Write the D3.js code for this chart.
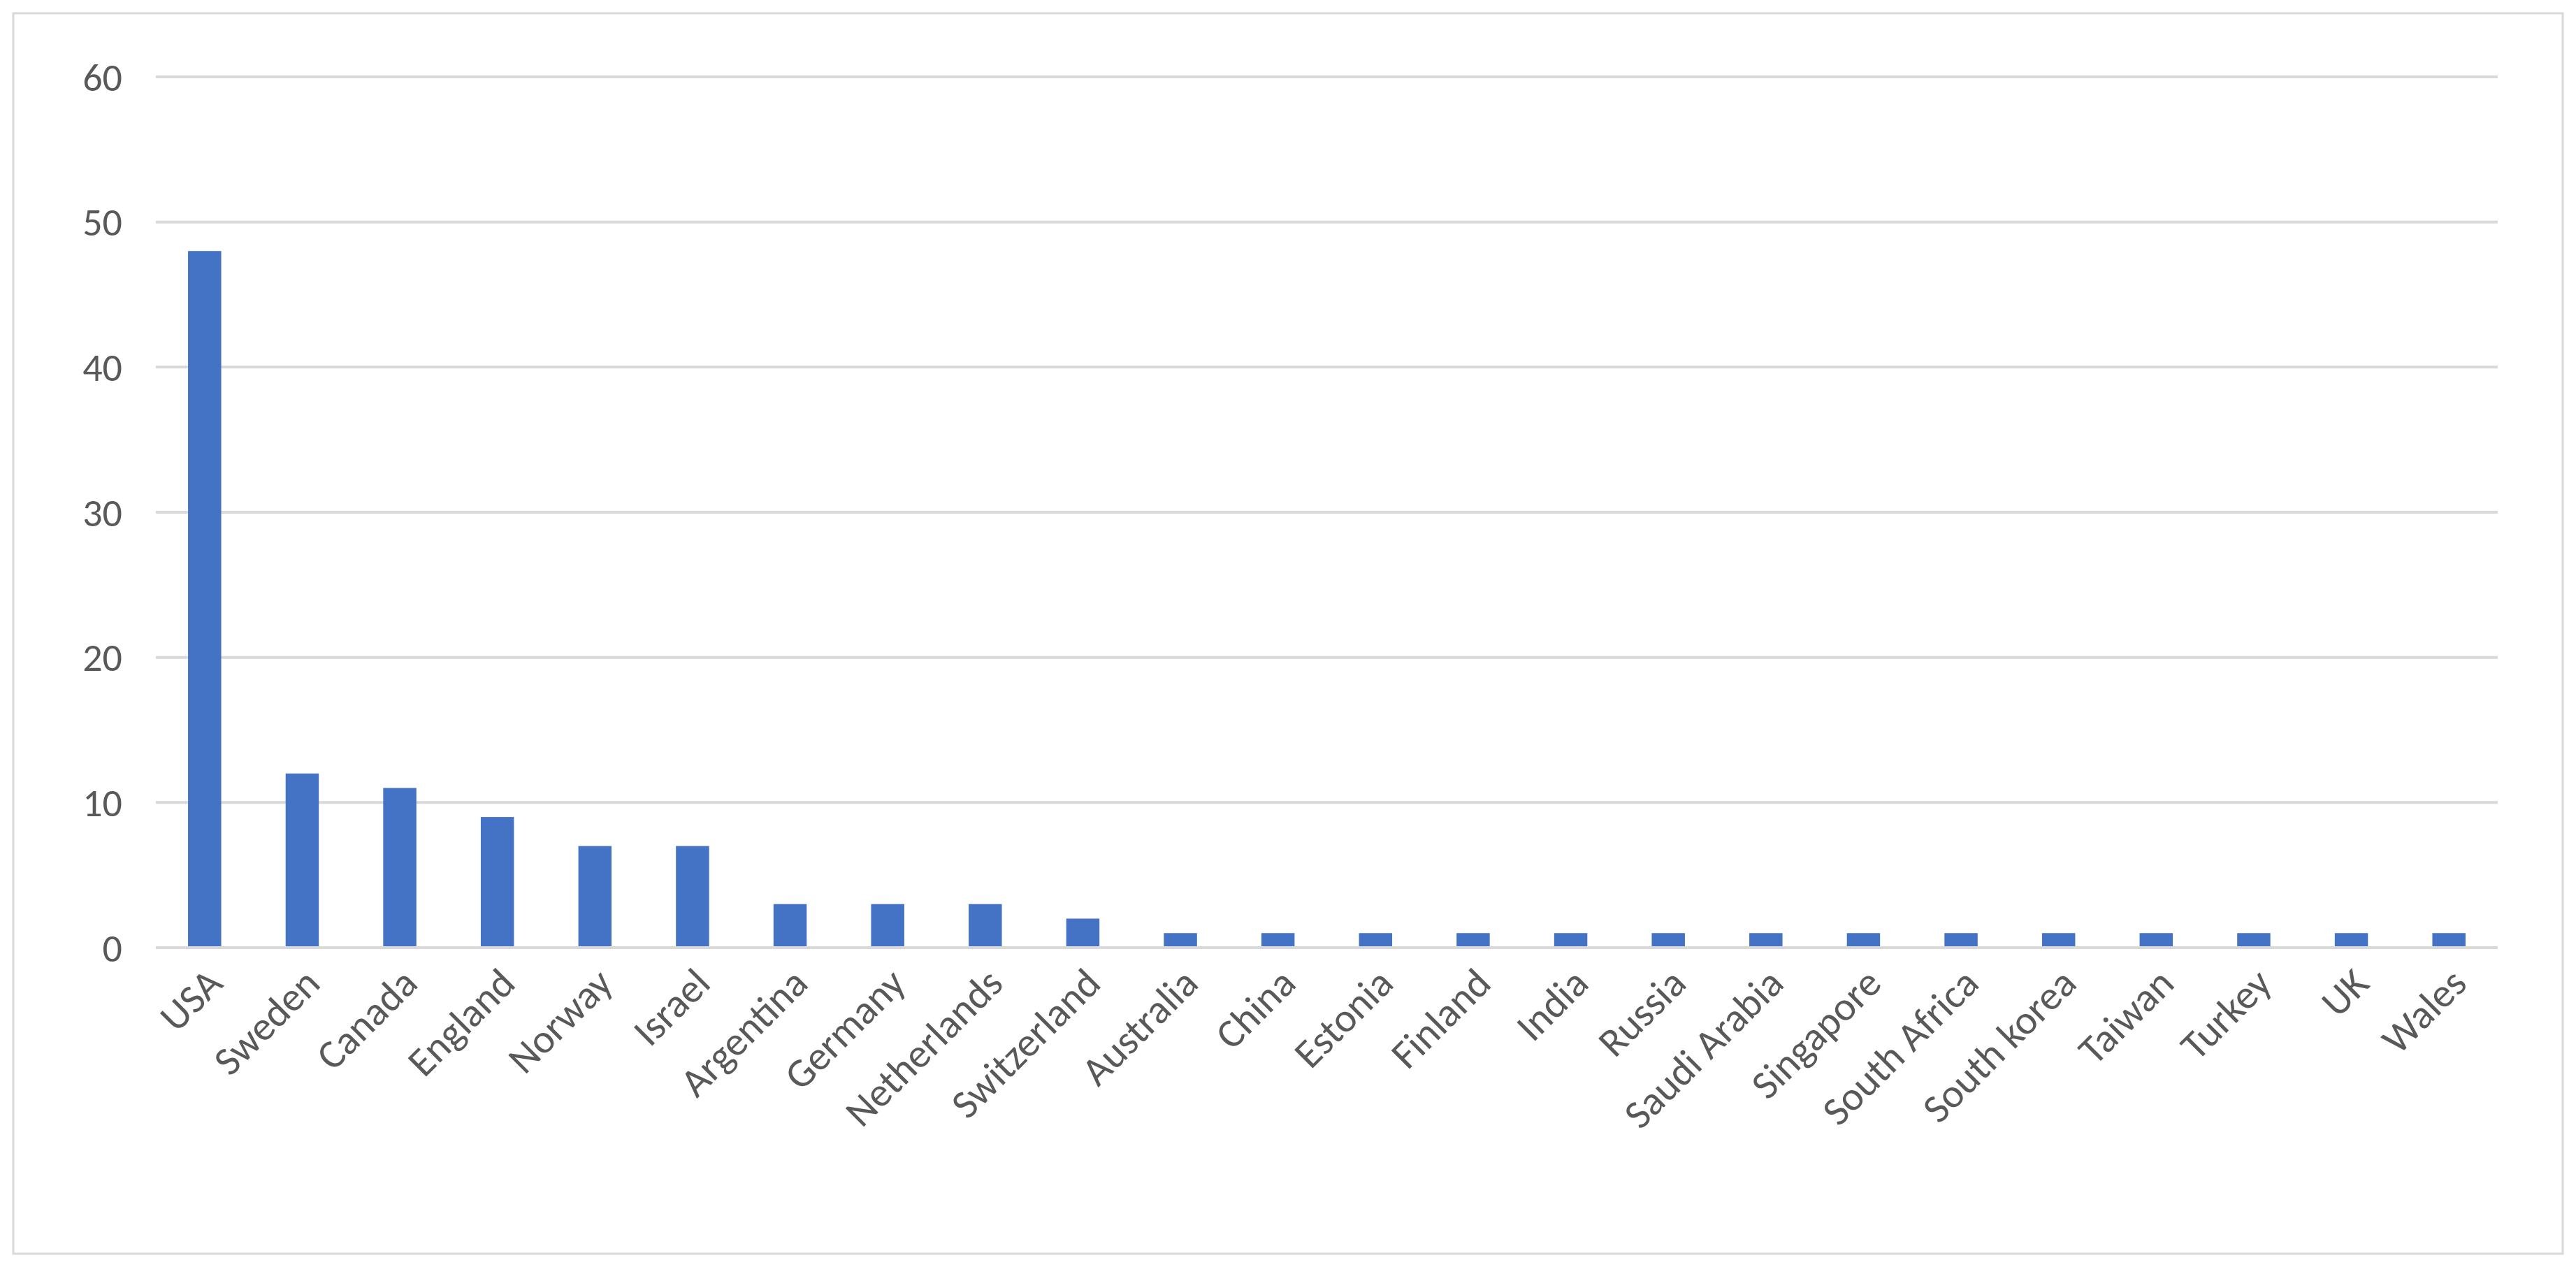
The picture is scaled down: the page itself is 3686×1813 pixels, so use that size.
<!DOCTYPE html>
<html>
<head>
<script src="https://d3js.org/d3.v7.min.js"></script>
<style>
  body { margin: 0; background: #fff; }
  svg { display: block; font-family: Calibri, Carlito, Lato, "Liberation Sans", sans-serif; }
</style>
</head>
<body>
<div id="chart"></div>
<script>
const countries = ["USA", "Sweden", "Canada", "England", "Norway", "Israel", "Argentina", "Germany",
  "Netherlands", "Switzerland", "Australia", "China", "Estonia", "Finland", "India", "Russia",
  "Saudi Arabia", "Singapore", "South Africa", "South korea", "Taiwan", "Turkey", "UK", "Wales"];
const counts = [48, 12, 11, 9, 7, 7, 3, 3, 3, 2, 1, 1, 1, 1, 1, 1, 1, 1, 1, 1, 1, 1, 1, 1];
const yTicks = [0, 10, 20, 30, 40, 50, 60];

const W = 3686, H = 1813;
const M = { left: 223, right: 3574, top: 110, bottom: 1356 };

const svg = d3.select("#chart").append("svg").attr("width", W).attr("height", H);

svg.append("rect")
  .attr("x", 19).attr("y", 19).attr("width", W - 38).attr("height", H - 38)
  .attr("fill", "none").attr("stroke", "#d9d9d9").attr("stroke-width", 3);

const x = d3.scaleBand().domain(countries).range([M.left, M.right]).paddingInner(0.66).paddingOuter(0.33);
const y = d3.scaleLinear().domain([0, 60]).range([M.bottom, M.top]);

// gridlines
svg.append("g").selectAll("line").data(yTicks.slice(1)).join("line")
  .attr("x1", M.left).attr("x2", M.right)
  .attr("y1", d => y(d)).attr("y2", d => y(d))
  .attr("stroke", "#d9d9d9").attr("stroke-width", 4);

// y tick labels
svg.append("g").selectAll("text").data(yTicks).join("text")
  .attr("x", M.left - 48).attr("y", d => y(d))
  .attr("dy", "0.35em").attr("text-anchor", "end")
  .attr("font-size", 56).attr("fill", "#595959")
  .text(d => d);

// bars
svg.append("g").selectAll("rect").data(countries).join("rect")
  .attr("x", d => x(d)).attr("width", x.bandwidth())
  .attr("y", (d, i) => y(counts[i]))
  .attr("height", (d, i) => y(0) - y(counts[i]))
  .attr("fill", "#4472C4");

// x axis line
svg.append("line")
  .attr("x1", M.left).attr("x2", M.right)
  .attr("y1", y(0)).attr("y2", y(0))
  .attr("stroke", "#d9d9d9").attr("stroke-width", 4);

// x labels
svg.append("g").selectAll("text").data(countries).join("text")
  .attr("transform", d => `translate(${x(d) + x.bandwidth() / 2 + 14},${M.bottom + 40}) rotate(-45)`)
  .attr("text-anchor", "end").attr("dy", "0.35em")
  .attr("font-size", 58).attr("fill", "#595959")
  .text(d => d);
</script>
</body>
</html>
